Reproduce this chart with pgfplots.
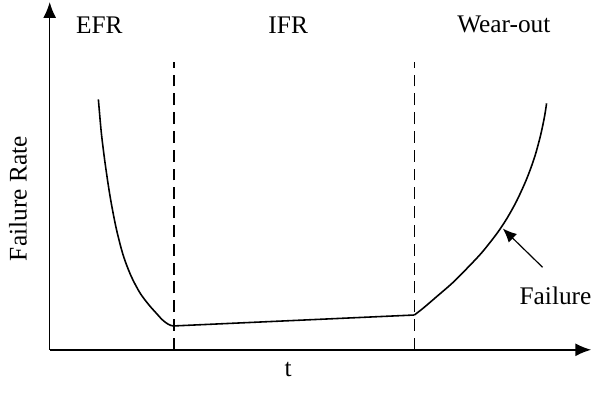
\documentclass[border=0pt]{standalone}
\usepackage{fontspec}
\setmainfont{Liberation Serif}
\usepackage{pgfplots}
\pgfplotsset{compat=1.18}
\usetikzlibrary{arrows.meta}
\begin{document}
\begin{tikzpicture}[x=1bp,y=1bp,font=\fontsize{12.8}{15}\selectfont]
\begin{axis}[
  scale only axis,
  width=272.5bp, height=175bp,
  xmin=0, xmax=545, ymin=0, ymax=350,
  axis x line=bottom, axis y line=left,
  axis line style={line width=0.8pt,-{Latex[length=8pt,width=6.5pt]}},
  xtick=\empty, ytick=\empty,
  clip=false,
]
\path (axis cs:-50,-59) rectangle (axis cs:548,352);
% dashed boundaries
\addplot[black, line width=0.75pt, dash pattern=on 6pt off 3.5pt] coordinates {(125,0) (125,290)};
\addplot[black, line width=0.75pt, dash pattern=on 6pt off 3.5pt] coordinates {(367,0) (367,290)};
% early failure
\addplot[black, line width=0.8pt, smooth] coordinates {
(49,252) (52,218) (56,186) (61,153) (67,122) (74,95) (82,74) (91,57) (100,45) (108,36) (113,30.5) (118,26.5) (122,24.5) (125,24)};
% constant
\addplot[black, line width=0.8pt] coordinates {(125,24) (367,35)};
% wear-out
\addplot[black, line width=0.8pt, smooth] coordinates {
(367,35) (376,42) (390,54) (405,67) (420,82) (435,98) (450,117) (460,132) (470,150) (480,172) (488,194) (494,216) (498,235) (500,248)};
\node at (axis cs:50,327) {EFR};
\node at (axis cs:240,327) {IFR};
\node at (axis cs:457,327) {Wear-out};
\node at (axis cs:240,-20) {t};
\node[rotate=90] at (axis cs:-32,152) {Failure Rate};
\node at (axis cs:509,54) {Failure};
\draw[line width=0.6pt,-{Latex[length=7pt,width=6pt]}] (axis cs:496,83) -- (axis cs:456,122);
\end{axis}
\end{tikzpicture}
\end{document}
